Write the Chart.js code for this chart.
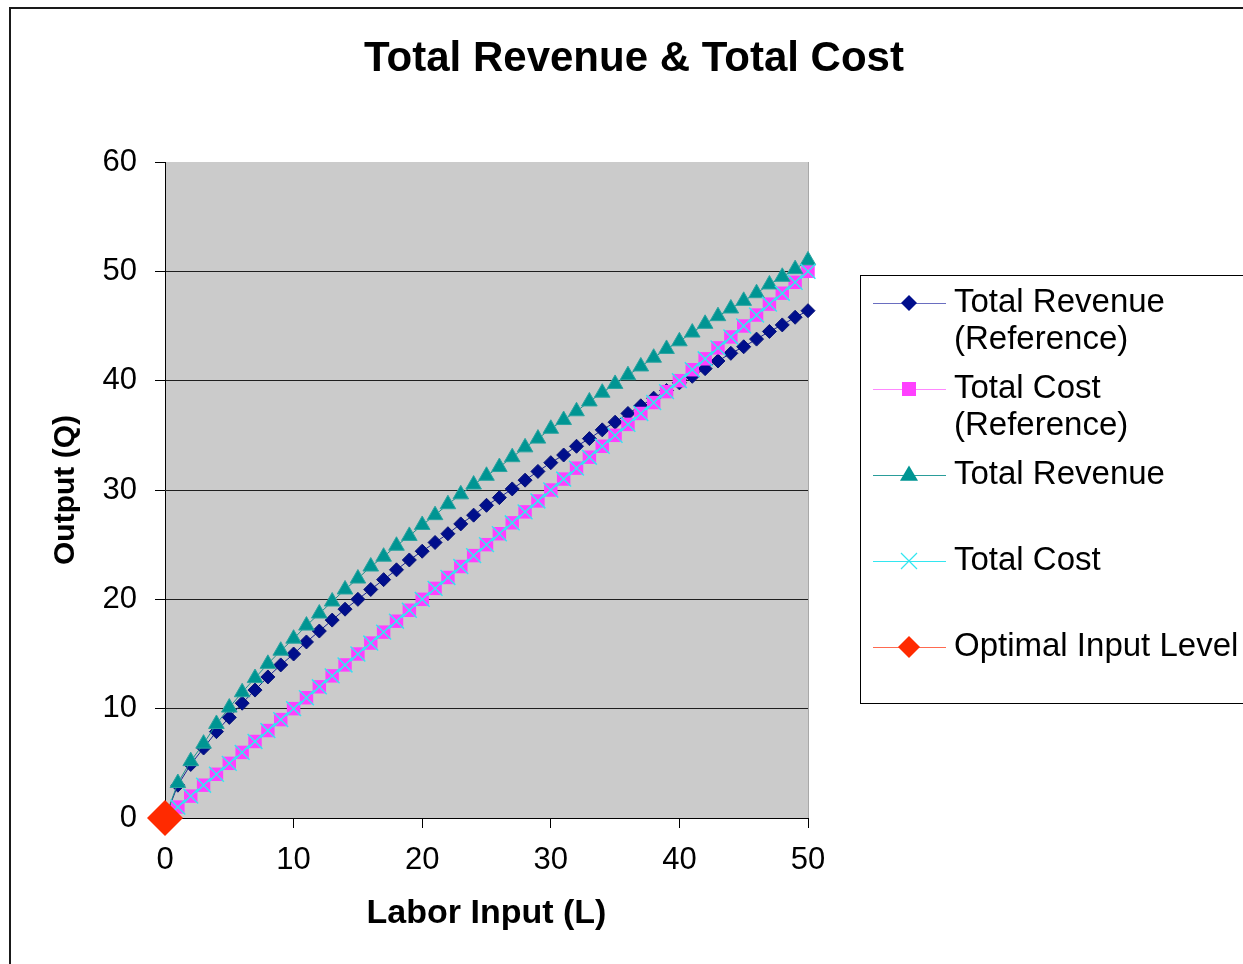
<!DOCTYPE html>
<html lang="en">
<head>
<meta charset="UTF-8">
<title>Total Revenue &amp; Total Cost</title>
<style>
  html, body { margin: 0; padding: 0; background: #fff; overflow: hidden; }
  #wrap { position: relative; width: 1243px; height: 964px; }
</style>
</head>
<body>
<div id="wrap"><canvas id="trtcChart" width="1243" height="964"></canvas></div>

<script src="https://cdn.jsdelivr.net/npm/chart.js@4.4.0/dist/chart.umd.min.js"></script>
<script>
  // Labor input L = 0..50
  const labor = [0, 1, 2, 3, 4, 5, 6, 7, 8, 9, 10, 11, 12, 13, 14, 15, 16, 17, 18, 19, 20,
    21, 22, 23, 24, 25, 26, 27, 28, 29, 30, 31, 32, 33, 34, 35, 36, 37, 38, 39, 40,
    41, 42, 43, 44, 45, 46, 47, 48, 49, 50];

  const revenueRef = [0, 3.0, 4.9, 6.4, 7.9, 9.2, 10.5, 11.7, 12.9, 14.0, 15.0,
    16.1, 17.1, 18.1, 19.1, 20.0, 20.9, 21.8, 22.7, 23.6, 24.4,
    25.2, 26.0, 26.9, 27.7, 28.6, 29.3, 30.1, 30.9, 31.7, 32.5,
    33.2, 34.0, 34.7, 35.5, 36.2, 37.0, 37.7, 38.4, 39.1, 39.8,
    40.4, 41.1, 41.8, 42.5, 43.1, 43.8, 44.5, 45.1, 45.8, 46.4];

  const costRef = [0, 1, 2, 3, 4, 5, 6, 7, 8, 9, 10, 11, 12, 13, 14, 15, 16, 17, 18, 19, 20,
    21, 22, 23, 24, 25, 26, 27, 28, 29, 30, 31, 32, 33, 34, 35, 36, 37, 38, 39, 40,
    41, 42, 43, 44, 45, 46, 47, 48, 49, 50];

  const revenue = [0, 3.2, 5.2, 6.8, 8.6, 10.1, 11.5, 12.8, 14.1, 15.3, 16.4,
    17.6, 18.7, 19.8, 20.9, 21.9, 23.0, 23.9, 24.9, 25.8, 26.8,
    27.7, 28.7, 29.6, 30.5, 31.3, 32.1, 33.0, 33.9, 34.7, 35.6,
    36.4, 37.2, 38.1, 38.9, 39.7, 40.5, 41.3, 42.1, 42.9, 43.6,
    44.4, 45.2, 45.9, 46.6, 47.3, 48.0, 48.8, 49.5, 50.2, 51.0];

  const cost = [0, 1, 2, 3, 4, 5, 6, 7, 8, 9, 10, 11, 12, 13, 14, 15, 16, 17, 18, 19, 20,
    21, 22, 23, 24, 25, 26, 27, 28, 29, 30, 31, 32, 33, 34, 35, 36, 37, 38, 39, 40,
    41, 42, 43, 44, 45, 46, 47, 48, 49, 50];

  const optimalL = [0];
  const optimalQ = [0];

  const xTicks = [0, 10, 20, 30, 40, 50];
  const yTicks = [0, 10, 20, 30, 40, 50, 60];

  const seriesNames = [
    ['Total Revenue', '(Reference)'],
    ['Total Cost', '(Reference)'],
    ['Total Revenue'],
    ['Total Cost'],
    ['Optimal Input Level']
  ];

  const FONT = '"Liberation Sans", Arial, sans-serif';

  const toPoints = (xs, ys) => xs.map((x, i) => ({ x: x, y: ys[i] }));

  // draws one legend symbol
  function drawMarker(ctx, style, x, y, size, fill, stroke, lw) {
    ctx.save();
    ctx.fillStyle = fill;
    ctx.strokeStyle = stroke;
    ctx.lineWidth = lw;
    ctx.beginPath();
    if (style === 'rectRot') {
      ctx.moveTo(x - size, y); ctx.lineTo(x, y - size);
      ctx.lineTo(x + size, y); ctx.lineTo(x, y + size);
      ctx.closePath(); ctx.fill();
    } else if (style === 'rect') {
      ctx.rect(x - size, y - size, size * 2, size * 2); ctx.fill();
    } else if (style === 'triangle') {
      ctx.moveTo(x, y - size);
      ctx.lineTo(x + size * 0.95, y + size * 0.6);
      ctx.lineTo(x - size * 0.95, y + size * 0.6);
      ctx.closePath(); ctx.fill();
    } else if (style === 'crossRot') {
      ctx.moveTo(x - size, y - size); ctx.lineTo(x + size, y + size);
      ctx.moveTo(x + size, y - size); ctx.lineTo(x - size, y + size);
      ctx.stroke();
    }
    ctx.restore();
  }

  const legendMarkers = [
    { style: 'rectRot', size: 8, fill: '#000e8c', stroke: '#000e8c', line: '#6a6ec0' },
    { style: 'rect', size: 7, fill: '#ff40ff', stroke: '#ff40ff', line: '#ff88ff' },
    { style: 'triangle', size: 9.5, fill: '#009593', stroke: '#009593', line: '#2a9d9a' },
    { style: 'crossRot', size: 8, fill: '#33e6f0', stroke: '#33e6f0', line: '#33e6f0' },
    { style: 'rectRot', size: 11, fill: '#ff2a00', stroke: '#ff2a00', line: '#ff6a50' }
  ];

  const framePlugin = {
    id: 'frame',
    beforeDraw(chart) {
      const { ctx, chartArea: a } = chart;
      ctx.save();
      ctx.fillStyle = '#ffffff';
      ctx.fillRect(0, 0, chart.width, chart.height);
      ctx.strokeStyle = '#1a1a1a';
      ctx.lineWidth = 2;
      ctx.strokeRect(10, 8, chart.width + 40, chart.height + 40);
      // plot background
      ctx.fillStyle = '#cbcbcb';
      ctx.fillRect(a.left, a.top, a.right - a.left, a.bottom - a.top);
      ctx.strokeStyle = '#a8a8a8';
      ctx.lineWidth = 1;
      ctx.beginPath();
      ctx.moveTo(a.right + 0.5, a.top);
      ctx.lineTo(a.right + 0.5, a.bottom);
      ctx.stroke();
      // title
      ctx.fillStyle = '#000';
      ctx.font = 'bold 42px ' + FONT;
      ctx.textAlign = 'center';
      ctx.textBaseline = 'middle';
      ctx.fillText('Total Revenue & Total Cost', 634, 59);
      ctx.restore();
    },
    afterDraw(chart) {
      const ctx = chart.ctx;
      ctx.save();
      // legend box
      ctx.fillStyle = '#fff';
      ctx.fillRect(861, 276, 420, 428);
      ctx.strokeStyle = '#000';
      ctx.lineWidth = 1;
      ctx.strokeRect(860.5, 275.5, 420, 428);
      const rowY = [303, 389, 475, 561, 647];
      ctx.font = '33px ' + FONT;
      ctx.textAlign = 'left';
      ctx.textBaseline = 'alphabetic';
      seriesNames.forEach((lines, i) => {
        const m = legendMarkers[i];
        const y = rowY[i];
        ctx.strokeStyle = m.line;
        ctx.lineWidth = 1;
        ctx.beginPath();
        ctx.moveTo(873, y + 0.5);
        ctx.lineTo(946, y + 0.5);
        ctx.stroke();
        drawMarker(ctx, m.style, 909, y, m.size, m.fill, m.stroke, 1.2);
        ctx.fillStyle = '#000';
        lines.forEach((t, k) => ctx.fillText(t, 954, y + 9 + k * 37));
      });
      ctx.restore();
    }
  };

  const ctx = document.getElementById('trtcChart').getContext('2d');

  new Chart(ctx, {
    type: 'line',
    data: {
      datasets: [
        {
          label: seriesNames[0].join(' '),
          data: toPoints(labor, revenueRef),
          borderColor: '#1a2494',
          borderWidth: 1,
          pointStyle: 'rectRot',
          pointRadius: 7,
          pointBackgroundColor: '#000e8c',
          pointBorderColor: '#0a1578',
          pointBorderWidth: 1,
          order: 5
        },
        {
          label: seriesNames[1].join(' '),
          data: toPoints(labor, costRef),
          borderColor: '#ff55ff',
          borderWidth: 1,
          pointStyle: 'rect',
          pointRadius: 9.5,
          pointBackgroundColor: '#ff40ff',
          pointBorderColor: '#ff40ff',
          pointBorderWidth: 0,
          order: 4
        },
        {
          label: seriesNames[2].join(' '),
          data: toPoints(labor, revenue),
          borderColor: '#1b8f8c',
          borderWidth: 1,
          pointStyle: 'triangle',
          pointRadius: 9,
          pointBackgroundColor: '#009593',
          pointBorderColor: '#2aa4a1',
          pointBorderWidth: 1,
          order: 3
        },
        {
          label: seriesNames[3].join(' '),
          data: toPoints(labor, cost),
          borderColor: '#33e6f0',
          borderWidth: 1,
          pointStyle: 'crossRot',
          pointRadius: 10.5,
          pointBorderColor: '#33e6f0',
          pointBorderWidth: 1.5,
          order: 2
        },
        {
          label: seriesNames[4].join(' '),
          data: toPoints(optimalL, optimalQ),
          borderColor: '#ff2a00',
          borderWidth: 1,
          pointStyle: 'rectRot',
          pointRadius: 18,
          pointBackgroundColor: '#ff2a00',
          pointBorderColor: '#ff2a00',
          pointBorderWidth: 0,
          order: 1
        }
      ]
    },
    options: {
      responsive: false,
      animation: false,
      devicePixelRatio: 1,
      clip: false,
      layout: { padding: { top: 162, left: 0, right: 435, bottom: 0 } },
      scales: {
        x: {
          type: 'linear',
          min: 0,
          max: 50,
          afterFit: (s) => { s.height = 146; },
          afterBuildTicks: (s) => { s.ticks = xTicks.map(v => ({ value: v })); },
          ticks: {
            color: '#000',
            font: { family: FONT, size: 31, lineHeight: 1.2 },
            padding: 14,
            maxRotation: 0,
            autoSkip: false
          },
          grid: {
            drawOnChartArea: false,
            drawTicks: true,
            tickLength: 10,
            tickColor: '#000'
          },
          border: { display: true, color: '#000', width: 1 },
          title: {
            display: true,
            text: 'Labor Input (L)',
            color: '#000',
            font: { family: FONT, size: 34, weight: 'bold', lineHeight: 1.2 },
            padding: { top: 0, bottom: 30 }
          }
        },
        y: {
          type: 'linear',
          min: 0,
          max: 60,
          afterFit: (s) => { s.width = 165; },
          afterBuildTicks: (s) => { s.ticks = yTicks.map(v => ({ value: v })); },
          ticks: {
            color: '#000',
            font: { family: FONT, size: 31, lineHeight: 1.2 },
            padding: 18
          },
          grid: {
            color: (c) => (c.tick && c.tick.value === 60 ? 'rgba(0,0,0,0)' : '#1e1e1e'),
            lineWidth: 1,
            drawTicks: true,
            tickLength: 10,
            tickColor: '#000'
          },
          border: { display: true, color: '#000', width: 1 },
          title: {
            display: true,
            text: 'Output (Q)',
            color: '#000',
            font: { family: FONT, size: 30, weight: 'bold', lineHeight: 1.2 },
            padding: { top: 48, bottom: 0 }
          }
        }
      },
      plugins: {
        legend: { display: false },
        title: { display: false },
        tooltip: { enabled: false }
      }
    },
    plugins: [framePlugin]
  });
</script>
</body>
</html>
